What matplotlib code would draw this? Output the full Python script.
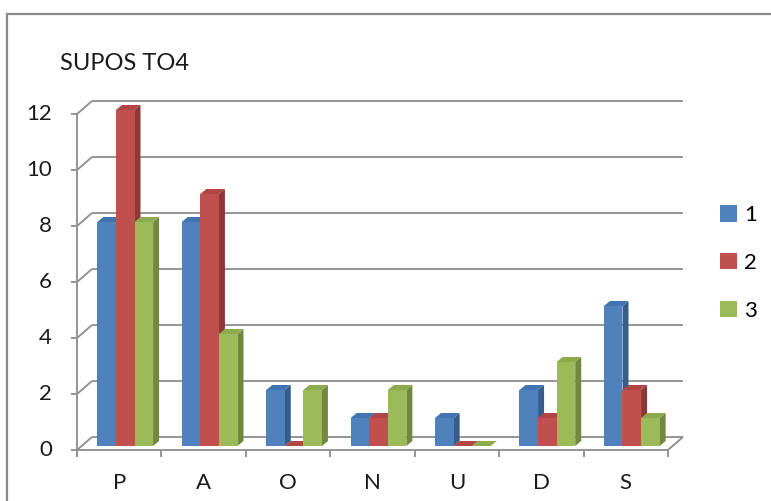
import numpy as np
import matplotlib
matplotlib.use("Agg")
import matplotlib.pyplot as plt
from matplotlib.patches import Polygon, Rectangle, Patch

plt.rcParams['font.family'] = ['Lato', 'DejaVu Sans']

# data
categories = ['P', 'A', 'O', 'N', 'U', 'D', 'S']
series_names = ['1', '2', '3']
s1 = [8, 8, 2, 1, 1, 2, 5]
s2 = [12, 9, 0, 1, 0, 1, 2]
s3 = [8, 4, 2, 2, 0, 3, 1]
yticks = [0, 2, 4, 6, 8, 10, 12]

front_cols = ['#4F81BD', '#C0504D', '#9BBB59']
side_cols = ['#385D8A', '#8C3836', '#71893F']
top_cols = ['#4274B0', '#B04744', '#8CAA4E']
grid_col = '#8C8C8C'

W, H = 771, 501
fig = plt.figure(figsize=(W / 100, H / 100), dpi=100)
# front plane of the chart, in pixels: x 77..668, y 450..114
ax = fig.add_axes([77 / W, (H - 450) / H, (668 - 77) / W, (450 - 114) / H])
n = len(categories)
ax.set_xlim(0, n)
ax.set_ylim(0, 12)
ax.axis('off')

# pixel -> data scale
kx = n / (668 - 77)
ky = 12 / (450 - 114)
wx, wy = 15 * kx, 13 * ky      # wall depth
bx, by = 6 * kx, 4 * ky        # bar base shift
dx, dy = 6 * kx, 5 * ky        # bar depth

lk = dict(color=grid_col, lw=1.3, clip_on=False, zorder=1, solid_capstyle='butt')

# back wall gridlines + left wall diagonals
for v in yticks:
    ax.plot([wx, n + wx], [v + wy, v + wy], **lk)
    ax.plot([0, wx], [v, v + wy], **lk)
    ax.plot([-6 * kx, 0], [v, v], **lk)
    ax.text(-25 * kx, v, str(v), ha='right', va='center', fontsize=16, color='#1a1a1a')

# floor
ax.plot([0, n], [0, 0], **lk)
ax.plot([n, n + wx], [0, wy], **lk)
ax.plot([0, 0], [0, 12], **lk)
for i in range(n + 1):
    ax.plot([i, i], [0, -7 * ky], **lk)
for i, c in enumerate(categories):
    ax.text(i + 0.5, -33 * ky, c, ha='center', va='center', fontsize=16, color='#1a1a1a')

# 3d-looking bars
series = [s1, s2, s3]
group = 0.66
bw = group / 3
z = 3
for i in range(n):
    for j, vals in enumerate(series):
        v = vals[i]
        x0 = i + (1 - group) / 2 + j * bw + bx
        y0 = by
        y1 = by + v
        side = Polygon([(x0 + bw, y0), (x0 + bw + dx, y0 + dy),
                        (x0 + bw + dx, y1 + dy), (x0 + bw, y1)],
                       closed=True, facecolor=side_cols[j], edgecolor='none',
                       zorder=z, clip_on=False)
        top = Polygon([(x0, y1), (x0 + dx, y1 + dy), (x0 + bw + dx, y1 + dy), (x0 + bw, y1)],
                      closed=True, facecolor=top_cols[j], edgecolor='none',
                      zorder=z, clip_on=False)
        front = Rectangle((x0, y0), bw, v, facecolor=front_cols[j], edgecolor='none',
                          zorder=z + 0.5, clip_on=False)
        ax.add_patch(side)
        ax.add_patch(top)
        ax.add_patch(front)
        z += 1

# title
fig.text(60 / W, 1 - 64 / H, 'SUPOS TO4', ha='left', va='center', fontsize=17, color='#1a1a1a')

# legend
handles = [Patch(facecolor=c, edgecolor='none') for c in front_cols]
fig.legend(handles, series_names, loc='center left', bbox_to_anchor=(700 / W, 1 - 263 / H),
           frameon=False, fontsize=16, labelspacing=1.25, handlelength=0.75,
           handleheight=0.75, handletextpad=0.35)

# outer chart border (cut by image edge on right/bottom)
fig.patches.append(Rectangle((7 / W, -0.1), 1.2, 1 - 14 / H + 0.1, transform=fig.transFigure,
                             fill=False, edgecolor='#8A8A8A', lw=1.6))

fig.savefig('out.png', dpi=100)
